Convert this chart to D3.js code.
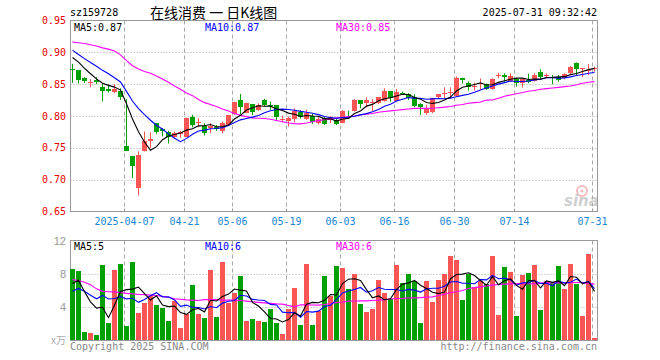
<!DOCTYPE html>
<html><head><meta charset="utf-8">
<script src="https://cdn.jsdelivr.net/npm/d3@7"></script>
<style>body{margin:0;background:#fff}svg{display:block}</style>
</head><body><svg id="c" width="660" height="360"></svg>
<script>
const dates = ["2025-03-24","2025-03-25","2025-03-26","2025-03-27","2025-03-28","2025-03-31","2025-04-01","2025-04-02","2025-04-03","2025-04-07",
"2025-04-08","2025-04-09","2025-04-10","2025-04-11","2025-04-14","2025-04-15","2025-04-16","2025-04-17","2025-04-18","2025-04-21",
"2025-04-22","2025-04-23","2025-04-24","2025-04-25","2025-04-28","2025-04-29","2025-04-30","2025-05-06","2025-05-07","2025-05-08",
"2025-05-09","2025-05-12","2025-05-13","2025-05-14","2025-05-15","2025-05-16","2025-05-19","2025-05-20","2025-05-21","2025-05-22",
"2025-05-23","2025-05-26","2025-05-27","2025-05-28","2025-05-29","2025-06-03","2025-06-04","2025-06-05","2025-06-06","2025-06-09",
"2025-06-10","2025-06-11","2025-06-12","2025-06-13","2025-06-16","2025-06-17","2025-06-18","2025-06-19","2025-06-20","2025-06-23",
"2025-06-24","2025-06-25","2025-06-26","2025-06-27","2025-06-30","2025-07-01","2025-07-02","2025-07-03","2025-07-04","2025-07-07",
"2025-07-08","2025-07-09","2025-07-10","2025-07-11","2025-07-14","2025-07-15","2025-07-16","2025-07-17","2025-07-18","2025-07-21",
"2025-07-22","2025-07-23","2025-07-24","2025-07-25","2025-07-28","2025-07-29","2025-07-30","2025-07-31"];

const open = [0.874,0.872,0.860,0.852,0.857,0.8456,0.8425,0.8373,0.8394,0.7532,
0.7375,0.6863,0.7452,0.761,0.7887,0.7793,0.7746,0.7678,0.7715,0.7678,
0.7992,0.7887,0.7849,0.7808,0.7834,0.7771,0.786,0.8027,0.8252,0.8054,
0.8184,0.8095,0.8252,0.8173,0.8173,0.793,0.7923,0.7955,0.8069,0.7949,
0.8,0.7886,0.7965,0.794,0.7939,0.7897,0.8007,0.808,0.8252,0.821,
0.8205,0.82,0.8242,0.8393,0.8242,0.8367,0.8341,0.8304,0.8184,0.8043,
0.8059,0.8294,0.8362,0.8362,0.8315,0.8593,0.852,0.8455,0.850,0.8498,
0.8425,0.8634,0.8644,0.8555,0.8582,0.8514,0.8566,0.8555,0.8686,0.8634,
0.8618,0.8607,0.8592,0.867,0.884,0.874,0.8717,0.8748];

const high = [0.882,0.872,0.861,0.858,0.861,0.850,0.850,0.850,0.8436,0.8263,
0.7375,0.7443,0.7757,0.7746,0.789,0.781,0.7767,0.7757,0.7767,0.7976,
0.8018,0.7966,0.7886,0.7886,0.786,0.7912,0.8017,0.8225,0.8346,0.821,
0.8184,0.82,0.8268,0.8226,0.8173,0.8006,0.7991,0.812,0.8095,0.8095,
0.8033,0.7991,0.7991,0.800,0.7965,0.8096,0.8085,0.8268,0.8252,0.8289,
0.8263,0.8294,0.8435,0.8393,0.8425,0.8383,0.8357,0.8341,0.82,0.8174,
0.8289,0.8346,0.8451,0.8451,0.8618,0.8602,0.854,0.8524,0.859,0.851,
0.8592,0.868,0.867,0.867,0.8592,0.8592,0.8665,0.867,0.8733,0.867,
0.8644,0.8644,0.867,0.8785,0.8843,0.8748,0.8817,0.8775];

const low = [0.852,0.851,0.852,0.845,0.850,0.8227,0.837,0.8357,0.8253,0.745,
0.7025,0.6753,0.7443,0.7495,0.772,0.768,0.7568,0.7652,0.7657,0.767,
0.7824,0.7824,0.7693,0.773,0.7766,0.773,0.785,0.8017,0.8033,0.8043,
0.8017,0.808,0.8148,0.8095,0.7938,0.7902,0.7834,0.7902,0.796,0.7939,
0.7876,0.787,0.786,0.789,0.786,0.7887,0.7954,0.807,0.8121,0.8132,
0.808,0.819,0.8226,0.8226,0.8226,0.833,0.8252,0.8137,0.8017,0.8017,
0.8043,0.8278,0.8278,0.8278,0.8304,0.851,0.840,0.840,0.841,0.841,
0.841,0.859,0.854,0.854,0.8461,0.8445,0.8514,0.854,0.8576,0.8592,
0.8498,0.854,0.8576,0.866,0.8644,0.8608,0.8644,0.8696];

const close = [0.873,0.857,0.8556,0.853,0.853,0.8394,0.8394,0.842,0.8295,0.7454,
0.7208,0.7391,0.761,0.764,0.7741,0.7757,0.7678,0.773,0.7751,0.7976,
0.7861,0.791,0.7739,0.785,0.7792,0.7886,0.8017,0.8215,0.8148,0.82,
0.8069,0.8173,0.8173,0.8158,0.798,0.795,0.7965,0.8085,0.798,0.8054,
0.7912,0.7955,0.7876,0.7981,0.7876,0.808,0.8002,0.8252,0.819,0.8252,
0.8215,0.8294,0.8399,0.8278,0.8383,0.8352,0.8278,0.8163,0.8148,0.8121,
0.8278,0.8346,0.8367,0.8372,0.8602,0.8566,0.8456,0.8476,0.8514,0.8425,
0.8582,0.8644,0.8608,0.8629,0.8514,0.8582,0.8535,0.8644,0.8618,0.8644,
0.8602,0.8566,0.866,0.8775,0.8738,0.8748,0.8722,0.8759];

const volume = [8.56,8.32,1.0,0.88,0.64,9.08,2.08,8.44,9.2,1.72,
9.4,3.32,4.48,5.36,4.24,3.92,2.32,4.76,1.48,3.2,
6.64,3.16,2.68,8.44,2.8,9.4,4.52,5.72,7.76,2.32,
2.56,2.32,2.2,3.76,2.08,0.76,3.76,6.28,1.84,9.16,
1.84,3.52,7.72,5.32,8.92,8.68,6.16,7.96,4.36,3.4,
3.76,7.24,5.68,4.96,9.04,6.88,8.0,7.12,2.08,7.12,
4.6,7.24,8.0,10.12,9.64,4.84,8.0,6.4,7.12,6.76,
10.12,3.04,8.8,8.2,2.92,7.84,8.08,9.04,3.64,7.12,
7.0,8.92,6.16,9.16,6.76,2.92,10.36,0.28];

// closes / volumes of the 9 sessions before the first shown day (for MA5 / MA10)
const priorClose = [0.925,0.92,0.915,0.91,0.905,0.893,0.905,0.895,0.893];
const priorVolume = [5.0,4.5,5.5,5.0,5.0,6.32,8.0,6.88,4.44];

const ma30Price = [0.916,0.915,0.914,0.912,0.910,0.907,0.905,0.902,0.896,0.887,
0.879,0.874,0.870,0.867,0.863,0.858,0.853,0.847,0.842,0.836,
0.832,0.826,0.821,0.818,0.815,0.811,0.808,0.804,0.801,0.799,
0.797,0.7965,0.796,0.795,0.793,0.791,0.789,0.788,0.7876,0.789,
0.791,0.7928,0.794,0.795,0.797,0.798,0.799,0.800,0.802,0.803,
0.804,0.806,0.807,0.808,0.809,0.810,0.811,0.812,0.812,0.812,
0.8122,0.813,0.814,0.8148,0.817,0.818,0.820,0.821,0.822,0.825,
0.8252,0.828,0.831,0.833,0.835,0.837,0.839,0.840,0.842,0.843,
0.844,0.845,0.8461,0.847,0.849,0.8514,0.853,0.854];

const ma30Volume = [7.3,7.2,7.0,6.7,6.2,5.9,5.85,5.84,5.75,5.65,
5.6,5.52,5.5,5.45,5.4,5.3,5.2,5.0,4.95,4.88,
4.84,4.8,4.9,4.92,4.9,4.85,4.84,4.84,4.8,4.72,
4.65,4.58,4.52,4.46,4.4,4.36,4.2,4.04,4.28,4.27,
4.26,4.24,4.32,4.44,4.55,4.62,4.72,4.74,4.75,4.76,
4.8,4.84,4.9,4.98,5.04,5.06,5.1,5.12,5.15,5.2,
5.24,5.4,5.55,5.75,5.85,6.0,6.24,6.34,6.44,6.55,
6.65,6.72,6.76,6.8,6.84,6.82,6.78,6.82,6.88,6.92,
6.92,6.92,6.92,6.94,6.96,6.96,6.85,6.76];

const priceTicks = [0.95,0.90,0.85,0.80,0.75,0.70,0.65];
const volumeTicks = [12,8,4];
const volumeUnit = "x万";
const dateTicks = ["2025-04-07","2025-04-21","2025-05-06","2025-05-19","2025-06-03","2025-06-16","2025-06-30","2025-07-14","2025-07-31"];
const symbol = "sz159728";
const title = "在线消费 一 日K线图";
const stamp = "2025-07-31 09:32:42";
const priceMALabels = ["MA5:0.87","MA10:0.87","MA30:0.85"];
const volumeMALabels = ["MA5:5","MA10:6","MA30:6"];
const copyright = "Copyright 2025 SINA.COM";
const siteUrl = "http://finance.sina.com.cn";

// ---------- drawing ----------
const RED = "#fa5555", GREEN = "#00a000", GRID = "#a8a8a8", FRAME = "#999";
const MA_COLORS = ["#000000", "#0000ff", "#ff00ff"];
const MONO = "'DejaVu Sans Mono', monospace";
const svg = d3.select("#c");
const L = 70.5, R = 597.5, pT = 20.5, pB = 211.5, vT = 240.5, vB = 340.5;

const x = d3.scaleBand().domain(dates).range([69.3, 597.3]).paddingInner(1/6).paddingOuter(1/12);
const bx = d => Math.round(x(d));
const cx = d => Math.round(x(d)) + 2.5;
const gx = d => Math.round(x(d)) + 0.5;
const y = d3.scaleLinear().domain([0.65, 0.95]).range([pB, pT]);
const vy = d3.scaleLinear().domain([0, 12]).range([vB, vT]);

const rows = dates.map((d, i) => ({d, i, o: open[i], h: high[i], l: low[i], c: close[i], v: volume[i]}));
const isUp = r => r.c >= r.o;

function movingAvg(prior, vals, n) {
  const all = prior.concat(vals);
  return vals.map((_, i) => d3.mean(all.slice(i + prior.length - n + 1, i + prior.length + 1)));
}
const pMA = [movingAvg(priorClose, close, 5), movingAvg(priorClose, close, 10), ma30Price];
const vMA = [movingAvg(priorVolume, volume, 5), movingAvg(priorVolume, volume, 10), ma30Volume];

// header
svg.append("text").attr("x", 70).attr("y", 16).attr("font-family", MONO).attr("font-size", 10).attr("fill", "#000").text(symbol);
svg.append("text").attr("x", 150).attr("y", 18).attr("font-family", "'Noto Sans CJK SC', sans-serif").attr("font-size", 14).attr("fill", "#000").text(title);
svg.append("text").attr("x", 597).attr("y", 16).attr("text-anchor", "end").attr("font-family", MONO).attr("font-size", 10).attr("fill", "#000").text(stamp);

// grids
const grid = svg.append("g");
priceTicks.filter(t => t < 0.95 && t > 0.65).forEach(t => {
  const yy = Math.round(y(t)) + 0.5;
  grid.append("line").attr("x1", L).attr("x2", R).attr("y1", yy).attr("y2", yy)
    .attr("stroke", GRID).attr("stroke-dasharray", "1,2");
});
volumeTicks.filter(t => t < 12).forEach(t => {
  const yy = Math.round(vy(t)) + 0.5;
  grid.append("line").attr("x1", L).attr("x2", R).attr("y1", yy).attr("y2", yy)
    .attr("stroke", GRID).attr("stroke-dasharray", "1,2");
});
dateTicks.forEach(d => {
  [[pT, pB], [vT, vB]].forEach(([a, b]) => {
    grid.append("line").attr("x1", gx(d)).attr("x2", gx(d)).attr("y1", a).attr("y2", b)
      .attr("stroke", GRID).attr("stroke-dasharray", "4,3");
  });
});

// watermark
const wm = svg.append("g").attr("opacity", 0.55);
wm.append("circle").attr("cx", 582).attr("cy", 191).attr("r", 5).attr("fill", "none").attr("stroke", "#e88").attr("stroke-width", 2);
wm.append("circle").attr("cx", 582).attr("cy", 191).attr("r", 1.6).attr("fill", "#e88");
wm.append("text").attr("x", 564).attr("y", 206).attr("font-family", "'DejaVu Sans', sans-serif").attr("font-style", "italic").attr("font-weight", "bold")
  .attr("font-size", 15).attr("fill", "#aaa").text("sina");

// frames
[[pT, pB], [vT, vB]].forEach(([a, b]) => {
  svg.append("rect").attr("x", L).attr("y", a).attr("width", R - L).attr("height", b - a)
    .attr("fill", "none").attr("stroke", FRAME);
});
// small ticks on price bottom axis
dateTicks.forEach(d => {
  svg.append("line").attr("x1", gx(d)).attr("x2", gx(d)).attr("y1", pB - 3).attr("y2", pB).attr("stroke", FRAME);
});

// y labels
svg.append("g").selectAll("text").data(priceTicks).join("text")
  .attr("x", 66).attr("y", t => y(t) + 3.5).attr("text-anchor", "end")
  .attr("font-family", MONO).attr("font-size", 10).attr("fill", "#e60000").text(t => t.toFixed(2));
svg.append("g").selectAll("text").data(volumeTicks).join("text")
  .attr("x", 66).attr("y", t => vy(t) + 4).attr("text-anchor", "end")
  .attr("font-family", "'Liberation Sans', sans-serif").attr("font-size", 11).attr("fill", "#999").text(t => t);
svg.append("text").attr("x", 66).attr("y", 344).attr("text-anchor", "end")
  .attr("font-family", "'Noto Sans CJK SC', sans-serif").attr("font-size", 10).attr("fill", "#aaa").text(volumeUnit);

// x labels
svg.append("g").selectAll("text").data(dateTicks).join("text")
  .attr("x", d => gx(d)).attr("y", 225).attr("text-anchor", "middle")
  .attr("font-family", MONO).attr("font-size", 10).attr("fill", "#1a86d4")
  .text((d, i) => i === 0 ? d : d.slice(5));

// candles
const cg = svg.append("g");
cg.selectAll("line").data(rows).join("line")
  .attr("x1", r => cx(r.d)).attr("x2", r => cx(r.d))
  .attr("y1", r => y(r.h)).attr("y2", r => y(r.l))
  .attr("stroke", r => isUp(r) ? RED : GREEN);
cg.selectAll("rect").data(rows).join("rect")
  .attr("x", r => bx(r.d)).attr("width", 5)
  .attr("y", r => Math.round(y(Math.max(r.o, r.c))))
  .attr("height", r => Math.max(1, Math.round(y(Math.min(r.o, r.c))) - Math.round(y(Math.max(r.o, r.c)))))
  .attr("fill", r => isUp(r) ? RED : GREEN);

// volume bars
svg.append("g").selectAll("rect").data(rows).join("rect")
  .attr("x", r => bx(r.d)).attr("width", 5)
  .attr("y", r => Math.round(vy(r.v)))
  .attr("height", r => Math.max(1, Math.round(vB - 0.5) - Math.round(vy(r.v))))
  .attr("fill", r => isUp(r) ? RED : GREEN);

// MA lines
const pLine = d3.line().x((v, i) => cx(dates[i])).y(v => y(v));
const vLine = d3.line().x((v, i) => cx(dates[i])).y(v => vy(v));
[2, 1, 0].forEach(k => {
  svg.append("path").attr("d", pLine(pMA[k])).attr("fill", "none").attr("stroke", MA_COLORS[k]).attr("stroke-width", 1.1);
  svg.append("path").attr("d", vLine(vMA[k])).attr("fill", "none").attr("stroke", MA_COLORS[k]).attr("stroke-width", 1.1);
});

// MA legends
const legendX = [74, 205, 336];
priceMALabels.forEach((t, k) => {
  svg.append("text").attr("x", legendX[k]).attr("y", 31).attr("font-family", MONO).attr("font-size", 10).attr("fill", MA_COLORS[k]).text(t);
});
volumeMALabels.forEach((t, k) => {
  svg.append("text").attr("x", legendX[k]).attr("y", 250).attr("font-family", MONO).attr("font-size", 10).attr("fill", MA_COLORS[k]).text(t);
});

// footer
svg.append("text").attr("x", 70).attr("y", 350).attr("font-family", MONO).attr("font-size", 10).attr("fill", "#888").text(copyright);
svg.append("text").attr("x", 597).attr("y", 350).attr("text-anchor", "end").attr("font-family", MONO).attr("font-size", 10).attr("fill", "#888").text(siteUrl);
</script></body></html>
